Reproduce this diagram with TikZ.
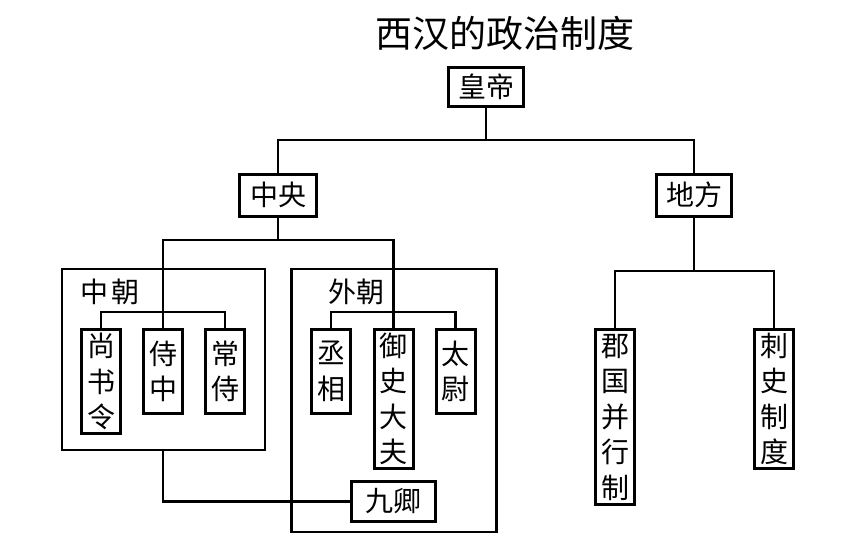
\documentclass[tikz,border=0pt]{standalone}
\usepackage{fontspec}
\newfontfamily\cjk{Noto Sans CJK SC}
\usepackage{tikz}
\usetikzlibrary{positioning}

\begin{document}
\begin{tikzpicture}[x=1pt,y=-1pt,line width=2.4pt,
 box/.style={draw,line width=3pt,inner sep=0pt,align=center,font=\cjk\fontsize{28}{35.5}\selectfont},
 hbox/.style={box,minimum width=75pt,minimum height=39pt},
 vbox/.style={box,minimum width=39pt,anchor=north},
 group/.style={draw,line width=2.8pt,inner sep=0pt},
 grouplabel/.style={font=\cjk\fontsize{28}{30}\selectfont}]
\useasboundingbox (0,0) rectangle (853,547);
\node[font=\cjk\fontsize{37}{40}\selectfont] (title) at (505,33) {西汉的政治制度};
% top levels
\node[hbox] (huangdi) at (486,87) {皇帝};
\node[hbox,minimum width=77pt,minimum height=42pt] (zhongyang) at (278,195) {中央};
\node[hbox,minimum height=42pt] (difang) at (694,195) {地方};
\coordinate (bar1) at (486,140);
\draw (huangdi.south) -- (bar1);
\draw (zhongyang.north) |- (bar1) -| (difang.north);
% inner and outer court
\node[group,minimum width=203pt,minimum height=181pt] (zhongchao) at (163.5,359.5) {};
\node[group,minimum width=205pt,minimum height=263pt] (waichao) at (394,400.5) {};
\node[grouplabel] (zclabel) at (110,292) {中\hspace{4pt}朝};
\node[grouplabel] (wclabel) at (356,292) {外朝};
\node[vbox,minimum height=104pt] (shangshu) at (101,328) {尚\\书\\令};
\node[vbox,minimum height=84pt] (shizhong) at (163,328) {侍\\中};
\node[vbox,minimum height=84pt] (changshi) at (225,328) {常\\侍};
\node[vbox,minimum height=84pt] (chengxiang) at (331,328) {丞\\相};
\node[vbox,minimum height=139pt] (yushi) at (393.5,328) {御\\史\\大\\夫};
\node[vbox,minimum height=84pt] (taiwei) at (455.5,328) {太\\尉};
\node[hbox,minimum width=84pt,minimum height=40pt] (jiuqing) at (393.5,501.5) {九卿};
\coordinate (bar2) at (278,240);
\draw (zhongyang.south) -- (bar2);
\draw (shizhong.north) |- (bar2) -| (yushi.north);
\draw (shangshu.north) -- ++(0,-16) -| (changshi.north);
\draw (chengxiang.north) -- ++(0,-16) -| (taiwei.north);
\draw (zhongchao.south -| shizhong) |- (jiuqing.west);
% local
\node[vbox,minimum height=175pt] (junguo) at (615,328) {郡\\国\\并\\行\\制};
\node[vbox,minimum height=139pt] (cishi) at (774,328) {刺\\史\\制\\度};
\coordinate (bar3) at (694,271);
\draw (difang.south) -- (bar3);
\draw (junguo.north) |- (bar3) -| (cishi.north);
\end{tikzpicture}
\end{document}
